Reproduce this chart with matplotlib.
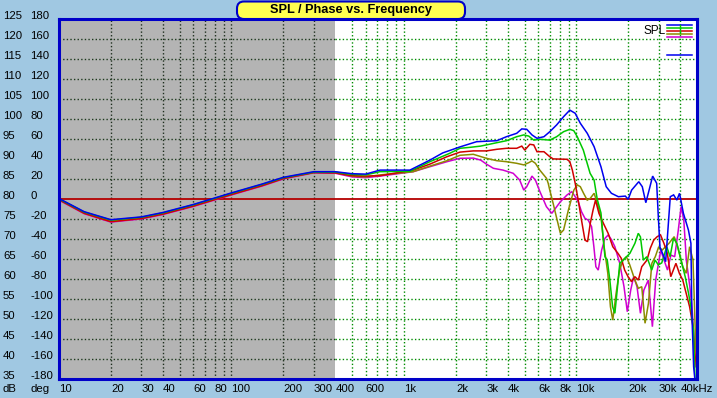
import matplotlib
matplotlib.use("Agg")
import matplotlib.pyplot as plt
from matplotlib import transforms
from matplotlib.patches import FancyBboxPatch
from matplotlib.lines import Line2D
from matplotlib.ticker import NullLocator

# ---------------- data ----------------
freq_blue = [10, 14, 20, 30, 40, 60, 100, 150, 200, 300, 400, 500, 600, 726, 1083, 1414, 1679, 2113,
             2636, 3453, 3930, 4505, 4820, 5150, 5522, 5905, 6480, 7005, 7679, 8420, 9155, 9836,
             10535, 11552, 12660, 13870, 14880, 15950, 17500, 19200, 19950, 20890, 22980, 24090,
             25250, 26380, 27660, 29190, 29800, 30500, 32150, 32900, 35000, 36600, 38200, 39600,
             41700, 44600, 46100, 46700, 47800, 48600]
spl_blue = [80.2, 76.9, 74.9, 75.6, 76.7, 78.7, 81.6, 83.8, 85.5, 86.9, 86.9, 86.4, 86.3, 87.3, 87.3,
            89.8, 91.6, 93.1, 94.4, 94.65, 95.65, 96.5, 97.6, 97.5, 96.1, 95.25, 95.65, 96.9, 98.6,
            100.65, 102.3, 101.5, 99.0, 96.5, 93.15, 88.15, 83.15, 81.5, 80.65, 80.8, 80.0, 82.3,
            84.4, 83.15, 79.15, 82.3, 85.8, 84.0, 76.0, 68.0, 65.65, 64.4, 80.65, 81.1, 79.8, 81.5,
            76.5, 72.3, 69.0, 51.5, 38.15, 35.0]

freq_green = [10, 14, 20, 30, 40, 60, 100, 150, 200, 300, 400, 500, 600, 726, 1083, 1414, 1843, 2113,
              2425, 2785, 3453, 3930, 4505, 4950, 5290, 5655, 6130, 7005, 7679, 8420, 9155, 9650,
              10110, 10960, 12000, 12660, 13200, 13870, 14200, 14630, 15090, 15620, 16200, 16700,
              17230, 17830, 18660, 20420, 21830, 22830, 23500, 24420, 25570, 27310, 28550, 29860,
              31230, 33380, 34930, 36530, 38200, 39960, 42710, 44660, 46070, 47710, 48700]
spl_green = [80.1, 76.8, 74.8, 75.5, 76.6, 78.6, 81.5, 83.7, 85.4, 86.8, 86.8, 86.2, 86.1, 86.9, 87.0,
             89.4, 91.5, 92.75, 93.0, 93.3, 94.15, 94.65, 95.65, 96.1, 95.8, 94.8, 95.0, 94.8, 95.65,
             96.9, 97.5, 97.15, 95.65, 92.3, 86.5, 84.8, 80.0, 76.6, 71.6, 65.65, 64.8, 59.8, 53.15,
             51.5, 57.3, 64.0, 64.8, 66.5, 69.0, 71.5, 70.6, 64.8, 65.65, 62.3, 64.8, 63.6, 64.1,
             68.15, 65.65, 70.25, 69.0, 65.65, 60.65, 56.5, 53.15, 47.3, 35.0]

freq_red = [10, 14, 20, 30, 40, 60, 100, 150, 200, 300, 400, 500, 600, 726, 1131, 1414, 1775, 2113,
            2524, 3006, 3453, 3930, 4505, 4820, 5017, 5370, 5655, 5905, 6480, 7005, 7325, 8826,
            9155, 9469, 9836, 10240, 10700, 11200, 11600, 12030, 12480, 12900, 13500, 14330, 15270,
            16240, 17400, 18190, 19040, 19930, 20860, 21830, 22850, 23920, 25630, 26800, 28050,
            29370, 30720, 32150, 33650, 35220, 37750, 39510, 41350, 43270, 45300, 47400, 48500, 49600]
spl_red = [79.9, 76.5, 74.4, 75.2, 76.3, 78.3, 81.2, 83.4, 85.2, 86.7, 86.6, 85.9, 85.8, 85.9, 87.3,
           88.8, 90.65, 91.8, 92.1, 92.1, 92.5, 92.75, 92.75, 93.3, 92.3, 93.75, 93.6, 91.9, 91.9,
           90.65, 90.1, 90.0, 89.4, 87.3, 84.0, 79.8, 74.8, 69.8, 69.4, 74.0, 77.3, 79.8, 76.5, 74.0,
           71.5, 68.15, 66.5, 65.25, 62.3, 60.65, 59.4, 60.65, 59.8, 63.15, 64.8, 67.75, 69.8, 70.65,
           71.1, 69.0, 66.5, 60.65, 64.0, 61.5, 59.8, 56.5, 53.15, 48.15, 41.5, 38.6]

freq_olive = [10, 14, 20, 30, 40, 60, 100, 150, 200, 300, 400, 500, 600, 726, 1131, 1414, 1775, 2113,
              2524, 3006, 3453, 3930, 4505, 4950, 5290, 5522, 5782, 6130, 6705, 6860, 7005, 7325,
              7680, 8070, 8420, 8980, 9660, 10110, 10535, 11000, 11550, 12030, 12660, 13040, 13870,
              14470, 15200, 15740, 16240, 16980, 17780, 18620, 19480, 20380, 21830, 22850, 23920,
              24990, 26150, 27370, 28650, 30000, 31390, 34400, 36880, 38600, 41350, 43270, 45300,
              47400, 48500, 49600]
spl_olive = [80.0, 76.6, 74.5, 75.3, 76.4, 78.4, 81.3, 83.5, 85.3, 86.7, 86.7, 85.8, 85.6, 86.1, 86.9,
             88.3, 89.65, 91.0, 91.25, 90.25, 89.65, 89.4, 89.0, 88.6, 89.15, 89.6, 89.0, 87.3, 85.25,
             84.0, 82.3, 79.0, 75.3, 71.5, 72.3, 77.3, 82.3, 83.6, 83.15, 81.5, 79.8, 80.25, 81.5,
             79.8, 75.65, 68.15, 61.5, 53.15, 49.8, 56.5, 62.3, 64.8, 65.65, 63.6, 59.8, 57.75,
             58.15, 49.0, 54.0, 64.0, 65.65, 68.15, 67.3, 69.0, 70.65, 68.15, 63.15, 61.5, 68.15,
             64.8, 51.5, 38.15]

freq_magenta = [10, 14, 20, 30, 40, 60, 100, 150, 200, 300, 400, 500, 600, 726, 1131, 1414, 1775,
                2113, 2524, 2785, 3006, 3300, 3750, 4300, 4690, 4950, 5150, 5522, 5782, 6130, 6700,
                7200, 7560, 8070, 8826, 9400, 9836, 10240, 10700, 11200, 11700, 12240, 12620, 12960,
                13380, 14000, 14630, 15300, 16010, 16700, 17830, 18870, 19720, 20640, 21460, 22450,
                23500, 24590, 26100, 27560, 28810, 30810, 32220, 33730, 35280, 37120, 38950, 40420,
                41930, 43360, 45440, 47060, 48830]
spl_magenta = [79.8, 76.4, 74.3, 75.1, 76.2, 78.2, 81.1, 83.3, 85.1, 86.6, 86.5, 85.6, 85.4, 85.8,
               86.9, 88.15, 89.4, 90.25, 90.3, 89.8, 88.8, 87.75, 87.3, 86.5, 84.8, 82.3, 83.15, 85.8,
               84.8, 82.0, 78.15, 76.5, 77.75, 79.4, 81.1, 81.9, 80.65, 79.4, 76.9, 75.25, 74.8,
               73.15, 68.15, 63.15, 62.3, 67.3, 70.25, 71.1, 69.8, 68.15, 64.0, 58.15, 51.9, 57.3,
               60.65, 58.15, 51.5, 57.3, 59.8, 48.15, 59.8, 67.3, 64.8, 62.3, 66.05, 65.65, 72.3,
               78.15, 74.8, 64.8, 58.15, 51.5, 38.15]

db_ticks = [125, 120, 115, 110, 105, 100, 95, 90, 85, 80, 75, 70, 65, 60, 55, 50, 45, 40, 35]
deg_ticks = [180, 160, 140, 120, 100, 80, 60, 40, 20, 0, -20, -40, -60, -80, -100, -120, -140, -160, -180]
x_tick_freqs = [10, 20, 30, 40, 60, 80, 100, 200, 300, 400, 600, 1000, 2000, 3000, 4000, 6000, 8000,
                10000, 20000, 30000, 40000]
x_tick_labels = ["10", "20", "30", "40", "60", "80", "100", "200", "300", "400", "600", "1k", "2k",
                 "3k", "4k", "6k", "8k", "10k", "20k", "30k", "40kHz"]
grid_freqs = [20, 30, 40, 50, 60, 70, 80, 90, 100, 200, 300, 500, 600, 700, 800, 900, 1000, 2000,
              3000, 4000, 5000, 6000, 7000, 8000, 9000, 10000, 20000, 30000, 40000]
grid_db = [40, 45, 50, 55, 60, 65, 70, 75, 85, 90, 95, 100, 105, 110, 115, 120]
gray_end = 400
zero_db = 80

series = [
    (freq_magenta, spl_magenta, "#D000D0"),
    (freq_olive, spl_olive, "#8C8C00"),
    (freq_red, spl_red, "#D00000"),
    (freq_green, spl_green, "#00C800"),
    (freq_blue, spl_blue, "#0000F0"),
]

# ---------------- figure ----------------
W, H = 717, 398
BG = "#A0C8E2"
plt.rcParams["font.family"] = ["Liberation Sans", "DejaVu Sans"]
fig = plt.figure(figsize=(W / 100, H / 100), dpi=100)
fig.patch.set_facecolor(BG)

px0, px1 = 59, 697
py0, py1 = 19.3, 379.3
ax = fig.add_axes([px0 / W, 1 - py1 / H, (px1 - px0) / W, (py1 - py0) / H])
ax.set_xscale("log")
ax.set_xlim(10, 50000)
ax.set_ylim(35, 125)
ax.set_facecolor("white")
ax.xaxis.set_minor_locator(NullLocator())
ax.set_xticks([])
ax.set_yticks([])

ax.axvspan(10, gray_end, color="#B4B4B4", zorder=0, lw=0)

dot = (0, (1, 1.6))
for f in grid_freqs:
    c = "#1E2E1E" if f < gray_end else "#008C00"
    ax.axvline(f, color=c, ls=dot, lw=1, zorder=1)
for v in grid_db:
    ax.hlines(v, 10, gray_end, color="#1E3A1E", ls=dot, lw=1, zorder=1)
    ax.hlines(v, gray_end, 50000, color="#008C00", ls=dot, lw=1, zorder=1)
ax.axhline(zero_db, color="#B40000", lw=1.3, zorder=2)

for fr, sp, col in series:
    ax.plot(fr, sp, color=col, lw=1.1, zorder=3, solid_joinstyle="miter")

for s in ax.spines.values():
    s.set_color("#0000C8")
    s.set_linewidth(2.2)
    s.set_zorder(5)

# y labels (dB and deg)
ty = transforms.blended_transform_factory(fig.transFigure, ax.transData)
for d, g in zip(db_ticks, deg_ticks):
    ax.text(3 / W, d + 0.9, str(d), transform=ty, ha="left", va="center", fontsize=8.2, color="black")
    ax.text(30.5 / W, d + 0.9, str(g), transform=ty, ha="left", va="center", fontsize=8.2, color="black")

ylab = 1 - 389.5 / H
fig.text(3 / W, ylab, "dB", ha="left", va="center", fontsize=8.2)
fig.text(30.5 / W, ylab, "deg", ha="left", va="center", fontsize=8.2)
tx = transforms.blended_transform_factory(ax.transData, fig.transFigure)
for f, lab in zip(x_tick_freqs, x_tick_labels):
    ax.text(f, ylab, lab, transform=tx, ha="left", va="center", fontsize=8.2, clip_on=False)

# title box
box = FancyBboxPatch((237, H - 19), 228, 17.5, boxstyle="round,pad=0,rounding_size=7",
                     transform=transforms.IdentityTransform(), facecolor="#FFFF50",
                     edgecolor="#0000C8", lw=1.5, zorder=10)
fig.add_artist(box)
fig.text(351 / W, 1 - 10 / H, "SPL / Phase vs. Frequency", ha="center", va="center",
         fontsize=9.2, fontweight="bold", color="black", zorder=11)

# legend
fig.text(643 / W, 1 - 31 / H, "SPL", ha="left", va="center", fontsize=8.5)
leg_y = [25.3, 28.3, 31, 34, 37]
leg_cols = ["#0000F0", "#00C800", "#D00000", "#8C8C00", "#D000D0"]
for yy, c in zip(leg_y, leg_cols):
    fig.add_artist(Line2D([667 / W, 692 / W], [1 - yy / H, 1 - yy / H], color=c, lw=1.1,
                          transform=fig.transFigure))
fig.add_artist(Line2D([680 / W, 680 / W], [1 - 25 / H, 1 - 33 / H], color="#00C800", lw=1,
                      transform=fig.transFigure))
fig.add_artist(Line2D([667 / W, 692 / W], [1 - 55 / H, 1 - 55 / H], color="#0000F0", lw=1.1,
                      transform=fig.transFigure))

fig.savefig("out.png", dpi=100, facecolor=BG)
